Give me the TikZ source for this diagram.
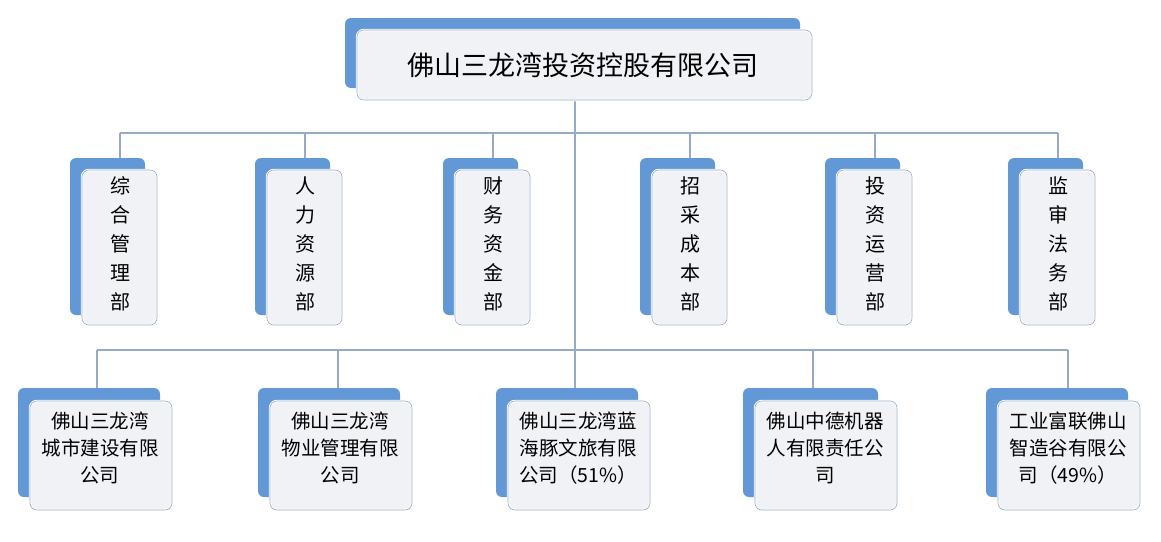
\documentclass[tikz,border=0pt]{standalone}
\usepackage{fontspec}
\setmainfont{Noto Sans CJK SC}
\begin{document}
\begin{tikzpicture}[x=1pt,y=-1pt,
  tab/.style={fill=tabblue,rounded corners=6pt},
  card/.style={fill=cardgray,draw=white,line width=2.5pt,rounded corners=7pt,
    postaction={draw=edge,line width=0.6pt,rounded corners=7pt}},
  conn/.style={draw=edge,line width=1.2pt},
  txt/.style={align=center,text=black,inner sep=0pt},
  dtxt/.style={txt,font=\fontsize{20}{29}\selectfont},
  ctxt/.style={txt,font=\fontsize{19.5}{27}\selectfont}]
\definecolor{tabblue}{RGB}{98,152,214}
\definecolor{cardgray}{RGB}{240,242,246}
\definecolor{edge}{RGB}{150,170,200}
\useasboundingbox[fill=white] (0,0) rectangle (1161,541);
% connectors
\coordinate (tb) at (575,100);
\coordinate (j2) at (575,350);
\draw[conn] (tb) -- (j2);
\draw[conn] (120,133) -- (1058,133);
\draw[conn] (97,350) -- (1068,350);
% top box
\fill[tab] (345,18) rectangle (800,88);
\draw[card] (357,30) rectangle (812,100);
\node[txt,font=\fontsize{27}{30}\selectfont] (top) at (583,65) {佛山三龙湾投资控股有限公司};
% departments
\foreach \cx/\t [count=\i] in {120/综\\合\\管\\理\\部,305/人\\力\\资\\源\\部,493/财\\务\\资\\金\\部,690/招\\采\\成\\本\\部,875/投\\资\\运\\营\\部,1058/监\\审\\法\\务\\部}{
  \draw[conn] (\cx,133) -- (\cx,170);
  \fill[tab] (\cx-50,158) rectangle (\cx+25,315);
  \draw[card] (\cx-38,170) rectangle (\cx+37,325);
  \node[dtxt] (d\i) at (\cx,244) {\t};
}
% companies
\foreach \cx in {100,340,578,1068}{
  \fill[tab] (\cx-82,388) rectangle (\cx+60,497);
  \draw[card] (\cx-70,401) rectangle (\cx+72,510);
}
\foreach \cx in {97,338,575,813,1068}{\draw[conn] (\cx,350) -- (\cx,388);}
\fill[tab] (743,388) rectangle (878,497);
\draw[card] (755,401) rectangle (897,510);
\node[ctxt] (c1) at (100,448) {佛山三龙湾\\城市建设有限\\公司};
\node[ctxt] (c2) at (340,448) {佛山三龙湾\\物业管理有限\\公司};
\node[ctxt] (c3) at (578,448) {佛山三龙湾蓝\\海豚文旅有限\\公司（51\%）};
\node[ctxt] (c4) at (825,448) {佛山中德机器\\人有限责任公\\司};
\node[ctxt] (c5) at (1068,448) {工业富联佛山\\智造谷有限公\\司（49\%）};
\end{tikzpicture}
\end{document}
